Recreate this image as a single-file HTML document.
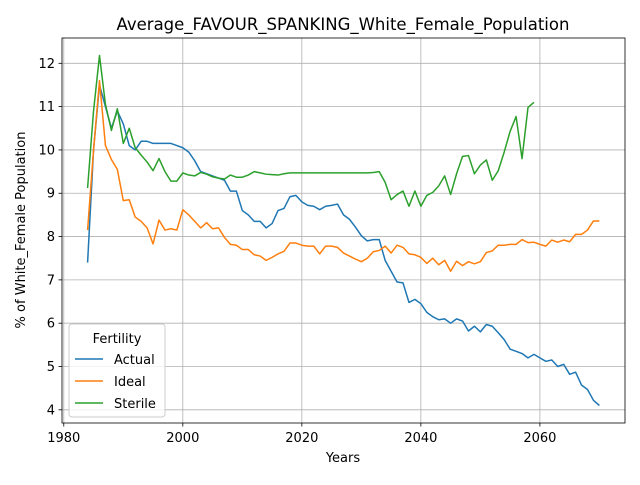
<!DOCTYPE html>
<html><head><meta charset="utf-8"><style>
body{margin:0;background:#fff;font-family:"Liberation Sans","DejaVu Sans",sans-serif;}
svg text{font-family:"DejaVu Sans","Liberation Sans",sans-serif;}
</style></head><body>
<svg id="chart" width="640" height="480" xmlns="http://www.w3.org/2000/svg">
<rect width="640" height="480" fill="#fff"/>
<g id="grid"></g><g id="series"></g><g id="axes"></g>
<text x="343" y="30" text-anchor="middle" font-size="16.5">Average_FAVOUR_SPANKING_White_Female_Population</text>
<text x="343" y="462" text-anchor="middle" font-size="13">Years</text>
<text x="25" y="230" text-anchor="middle" font-size="13" transform="rotate(-90 25 230)">% of White_Female Population</text>
<g>
<rect x="69" y="324" width="96" height="93" rx="3" fill="#fff" fill-opacity="0.8" stroke="#ccc"/>
<text x="117" y="343" text-anchor="middle" font-size="13">Fertility</text>
<g><line x1="75" y1="359" x2="103" y2="359" stroke="#1f77b4" stroke-width="1.5"/><text x="114" y="364" font-size="13">Actual</text></g>
<g><line x1="75" y1="381" x2="103" y2="381" stroke="#ff7f0e" stroke-width="1.5"/><text x="114" y="386" font-size="13">Ideal</text></g>
<g><line x1="75" y1="403" x2="103" y2="403" stroke="#2ca02c" stroke-width="1.5"/><text x="114" y="408" font-size="13">Sterile</text></g>
</g>
</svg>
<script>
const startYear = 1984;
const actual = [7.4,10.0,11.5,11.0,10.5,10.9,10.6,10.1,10.0,10.2,10.2,10.15,10.15,10.15,10.15,10.1,10.05,9.95,9.75,9.5,9.45,9.4,9.35,9.3,9.05,9.05,8.6,8.5,8.35,8.35,8.2,8.3,8.6,8.65,8.92,8.95,8.8,8.72,8.7,8.62,8.7,8.72,8.75,8.5,8.4,8.22,8.02,7.9,7.93,7.93,7.45,7.2,6.95,6.93,6.48,6.55,6.45,6.25,6.15,6.08,6.1,6.0,6.1,6.05,5.82,5.93,5.8,5.97,5.93,5.78,5.62,5.4,5.35,5.3,5.2,5.28,5.2,5.12,5.15,5.0,5.05,4.82,4.87,4.57,4.47,4.22,4.1];
const ideal = [8.15,10.0,11.6,10.1,9.78,9.55,8.83,8.85,8.45,8.35,8.2,7.83,8.38,8.15,8.18,8.15,8.62,8.5,8.35,8.2,8.32,8.18,8.2,7.98,7.82,7.8,7.7,7.7,7.58,7.55,7.45,7.52,7.6,7.66,7.85,7.85,7.8,7.78,7.78,7.6,7.78,7.78,7.75,7.62,7.55,7.48,7.42,7.5,7.65,7.68,7.78,7.62,7.8,7.75,7.6,7.58,7.52,7.38,7.5,7.35,7.45,7.2,7.43,7.33,7.42,7.37,7.42,7.63,7.67,7.8,7.8,7.82,7.82,7.93,7.86,7.87,7.82,7.78,7.92,7.87,7.92,7.88,8.05,8.05,8.15,8.36,8.36];
const sterile = [9.12,10.9,12.18,11.05,10.45,10.95,10.15,10.5,10.05,9.88,9.72,9.52,9.8,9.5,9.28,9.28,9.47,9.42,9.4,9.48,9.44,9.38,9.35,9.33,9.42,9.37,9.37,9.42,9.5,9.47,9.44,9.43,9.42,9.45,9.47,9.47,9.47,9.47,9.47,9.47,9.47,9.47,9.47,9.47,9.47,9.47,9.47,9.47,9.48,9.5,9.25,8.85,8.97,9.05,8.7,9.05,8.7,8.95,9.02,9.17,9.4,8.97,9.45,9.85,9.87,9.45,9.65,9.77,9.3,9.52,9.95,10.43,10.77,9.8,10.98,11.1];
const xTicks = [1980,2000,2020,2040,2060];
const yTicks = [4,5,6,7,8,9,10,11,12];
const L=62,R=625,T=38,B=423;
const x0=1979.7,x1=2074.3,y0=3.696,y1=12.584;
const sx=v=>L+(v-x0)/(x1-x0)*(R-L);
const sy=v=>B-(v-y0)/(y1-y0)*(B-T);
const NS="http://www.w3.org/2000/svg";
function mk(tag,attrs,parent){const e=document.createElementNS(NS,tag);for(const k in attrs)e.setAttribute(k,attrs[k]);parent.appendChild(e);return e;}
const grid=document.getElementById('grid'),axes=document.getElementById('axes'),ser=document.getElementById('series');
xTicks.forEach(t=>{
  const g=mk('line',{x1:sx(t),x2:sx(t),y1:T,y2:B,stroke:'#b0b0b0','stroke-width':0.8},grid);
  
  
  mk('line',{x1:sx(t),x2:sx(t),y1:B,y2:B+3.5,stroke:'#000','stroke-width':0.8},axes);
  const tx=mk('text',{x:sx(t),y:B+19,'text-anchor':'middle','font-size':13},axes);tx.textContent=t;
  
  
});
yTicks.forEach(t=>{
  const g=mk('line',{x1:L,x2:R,y1:sy(t),y2:sy(t),stroke:'#b0b0b0','stroke-width':0.8},grid);
  
  
  mk('line',{x1:L-3.5,x2:L,y1:sy(t),y2:sy(t),stroke:'#000','stroke-width':0.8},axes);
  const tx=mk('text',{x:L-7,y:sy(t)+4.5,'text-anchor':'end','font-size':13},axes);tx.textContent=t;
  
  
});
const frame=mk('rect',{x:L,y:T,width:R-L,height:B-T,fill:'none',stroke:'#000','stroke-width':0.8},axes);


[[actual,'#1f77b4','actual-line'],[ideal,'#ff7f0e','ideal-line'],[sterile,'#2ca02c','sterile-line']].forEach(([d,c,n])=>{
  const p=mk('polyline',{points:d.map((v,i)=>sx(startYear+i)+','+sy(v)).join(' '),fill:'none',stroke:c,'stroke-width':1.5,'stroke-linejoin':'round'},ser);
  
  
});
</script>
</body></html>
